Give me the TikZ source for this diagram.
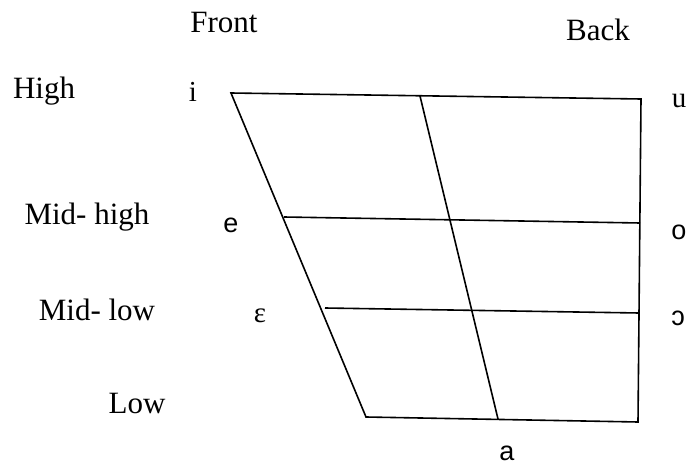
\documentclass[tikz,border=0pt]{standalone}
\usepackage{fontspec}
\setmainfont{Liberation Serif}
\newfontfamily\sansf{Liberation Sans}
\begin{document}
\begin{tikzpicture}[x=1pt,y=-1pt,
  lbl/.style={font=\fontsize{31}{32}\selectfont, inner sep=0pt},
  vow/.style={font=\fontsize{29}{30}\selectfont, inner sep=0pt},
  svow/.style={font=\sansf\fontsize{27}{28}\selectfont, inner sep=0pt},
  edge/.style={line width=1.6pt, line join=miter}]
\useasboundingbox (0,0) rectangle (691,468);
% corners
\coordinate (TL) at (231,93);
\coordinate (TM) at (420,96);
\coordinate (TR) at (641,99);
\coordinate (BL) at (366,417);
\coordinate (BM) at (498,419);
\coordinate (BR) at (638,422);
\coordinate (HL) at (284,217);
\coordinate (HR) at (640,223);
\coordinate (LL) at (325,308);
\coordinate (LR) at (639,313);
\draw[edge] (TL) -- (TR) -- (BR) -- (BL) -- cycle;
\draw[edge] (TM) -- (BM);
\draw[edge] (HL) -- (HR);
\draw[edge] (LL) -- (LR);
% labels
\node[lbl] (front) at (224,23) {Front};
\node[lbl] (back) at (598,30) {Back};
\node[lbl] (high) at (44,91) {High};
\node[lbl] (midhigh) at (87,217) {Mid- high};
\node[lbl] (midlow) at (97,310) {Mid- low};
\node[lbl] (low) at (137,404) {Low};
\node[vow] (i) at (193,92) {i};
\node[vow] (u) at (679,101) {u};
\node[svow] (e) at (231,225) {e};
\node[svow] (o) at (679,232) {o};
\node[vow] (eps) at (260,316) {ɛ};
\node[svow] (openo) at (678,318) {ɔ};
\node[svow] (a) at (507,453) {a};
\end{tikzpicture}
\end{document}
